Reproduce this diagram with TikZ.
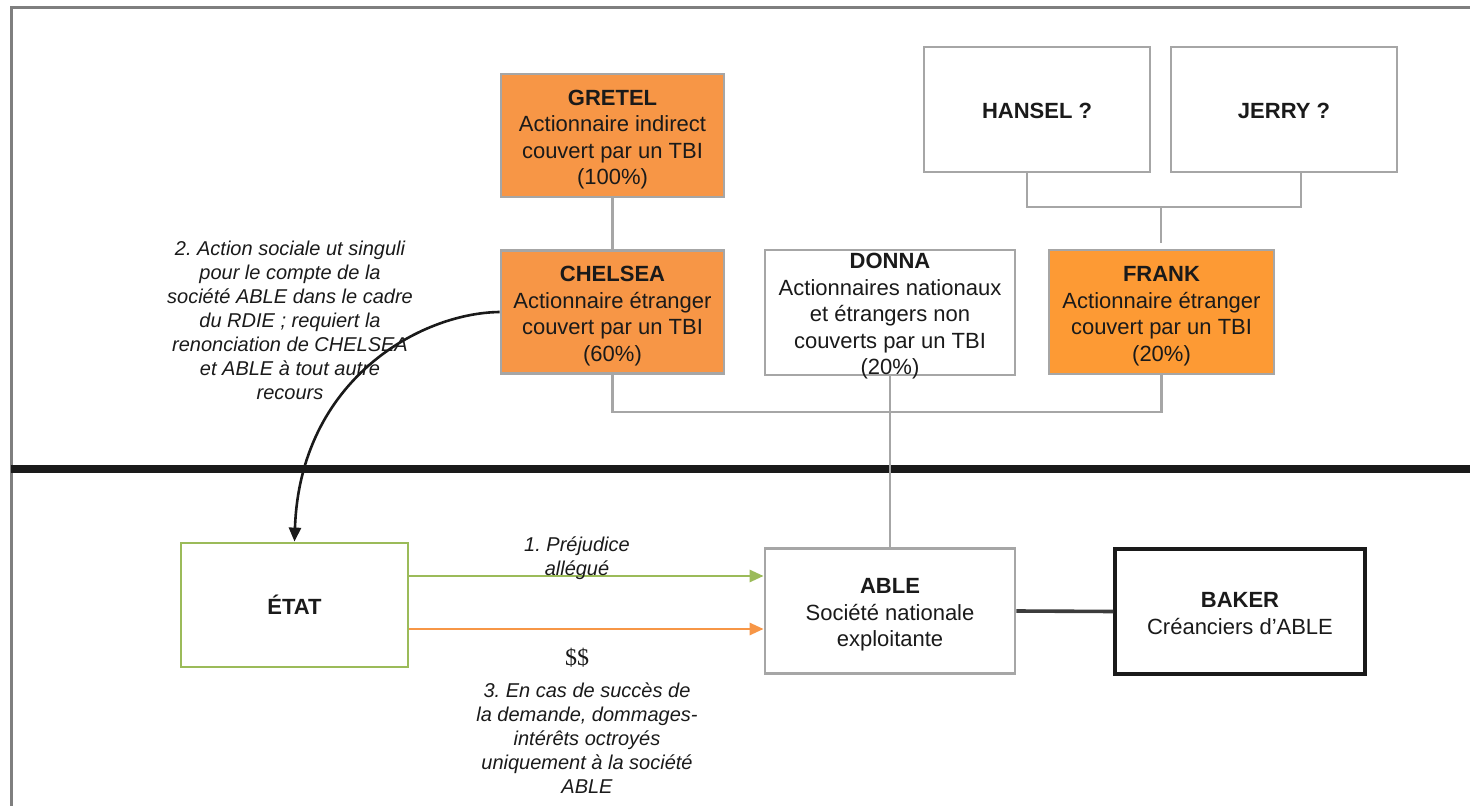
\documentclass[tikz,border=0pt]{standalone}
\usepackage{fontspec}
\setmainfont{Liberation Sans}
\newfontfamily\dollarfont{Liberation Serif}
\usetikzlibrary{arrows.meta,calc}
\definecolor{orA}{HTML}{F79646}
\definecolor{orB}{HTML}{FD9A34}
\definecolor{grB}{HTML}{A6A6A6}
\definecolor{frameG}{HTML}{7F7F7F}
\definecolor{grn}{HTML}{9BBB59}
\definecolor{txt}{HTML}{1A1A1A}
\newcommand\mlt[1]{\raisebox{-2pt}[\height][\depth]{\begin{tabular}{@{}c@{}}#1\end{tabular}}}
\newcommand\mltd[1]{\raisebox{-2pt}[\dimexpr\height-4pt\relax][\dimexpr\depth-4pt\relax]{\begin{tabular}{@{}c@{}}#1\end{tabular}}}
\frenchspacing
\begin{document}
\begin{tikzpicture}[x=0.5pt,y=-0.5pt,
  box/.style={draw=grB,line width=1.4pt,rectangle,align=center,text=txt,
    font=\fontsize{11}{13.25}\selectfont\frenchspacing,inner sep=0pt},
  obox/.style={box,fill=orA,minimum width=111.5pt,minimum height=61.5pt},
  fbox/.style={box,fill=orB,minimum width=112.5pt,minimum height=62pt},
  wbox/.style={box,fill=white,minimum width=125pt,minimum height=62.5pt},
  qbox/.style={box,fill=white,minimum width=113pt,minimum height=62.5pt},
  conn/.style={draw=grB,line width=1.4pt},
  lbl/.style={align=center,text=txt,font=\fontsize{10}{12}\selectfont\itshape\frenchspacing,inner sep=0pt},
  arr/.style={line width=1.4pt,-{Triangle[length=7pt,width=6pt]}}
]
\useasboundingbox (0,0) rectangle (1470,806);
% frame
\draw[frameG,line width=1.5pt] (11,806) -- (11,8) -- (1470,8);
\draw[txt,line width=4pt] (11,469) -- (1470,469);

% nodes
\node[obox] (gretel) at (612.5,135.5) {\mlt{\textbf{GRETEL}\\Actionnaire indirect\\couvert par un TBI\\(100\%)}};
\node[obox] (chelsea) at (612.5,312) {\mlt{\textbf{CHELSEA}\\Actionnaire étranger\\couvert par un TBI\\(60\%)}};
\node[wbox] (donna) at (890,312.5) {\mltd{\textbf{DONNA}\\Actionnaires nationaux\\et étrangers non\\couverts par un TBI\\(20\%)}};
\node[fbox] (frank) at (1161.5,312) {\mlt{\textbf{FRANK}\\Actionnaire étranger\\couvert par un TBI\\(20\%)}};
\node[qbox] (hansel) at (1037,109.5) {\mlt{\textbf{HANSEL ?}}};
\node[qbox] (jerry) at (1284,109.5) {\mlt{\textbf{JERRY ?}}};
\node[box,draw=grn,fill=white,minimum width=113.5pt,minimum height=62pt] (etat) at (294.5,605) {\textbf{ÉTAT}};
\node[wbox] (able) at (890,611) {\mlt{\textbf{ABLE}\\Société nationale\\exploitante}};
\node[box,draw=txt,line width=1.6pt,fill=white,minimum width=125pt,minimum height=62.5pt] (baker) at (1240,611.5) {\mlt{\textbf{BAKER}\\Créanciers d’ABLE}};

% connectors
\coordinate (hj) at (1161,207);
\coordinate (bj) at (890,412);
\draw[conn] (gretel.south) -- (chelsea.north);
\draw[conn] ([xshift=-5pt]hansel.south) |- (hj) -| ([xshift=8.5pt]jerry.south);
\draw[conn] (hj) -- ([yshift=3pt]frank.north -| hj);
\draw[conn] (chelsea.south) |- (bj) -| (frank.south);
\draw[conn] (donna.south) -- (able.north);
\draw[txt!85!white,line width=1.8pt] (able.east) -- (baker.west);

\coordinate (ga) at (0,576);
\coordinate (oa) at (0,629);
\draw[arr,grn] (etat.east |- ga) -- (able.west |- ga);
\draw[arr,orA] (etat.east |- oa) -- (able.west |- oa);
\draw[arr,txt,line width=1.3pt] (chelsea.west) .. controls (420,313) and (300,380) .. (etat.north);

% labels
\node[lbl] (l1) at (577,558) {1. Préjudice\\allégué};
\node[text=txt,font=\dollarfont\fontsize{12}{14}\selectfont,inner sep=0pt] (dol) at (577,658) {\$\$};
\node[lbl] (l3) at (587,738) {3. En cas de succès de\\la demande, dommages-\\intérêts octroyés\\uniquement à la société\\ABLE};
\node[lbl] (l2) at (290,320) {2. Action sociale ut singuli\\pour le compte de la\\société ABLE dans le cadre\\du RDIE ; requiert la\\renonciation de CHELSEA\\et ABLE à tout autre\\recours};
\end{tikzpicture}
\end{document}
